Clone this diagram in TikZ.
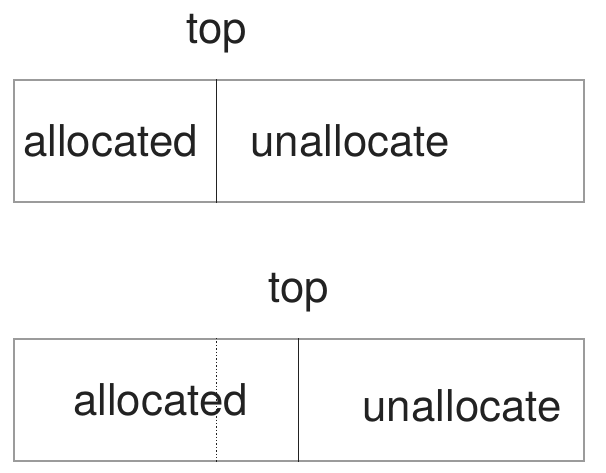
\documentclass[tikz,border=0pt]{standalone}
\usepackage{fontspec}
\setmainfont{TeX Gyre Heros}
\usetikzlibrary{positioning}
\definecolor{rimgray}{RGB}{155,155,155}
\definecolor{inkgray}{RGB}{34,34,34}
\tikzset{
  mem/.style={draw=rimgray, line width=1pt, minimum width=285pt, minimum height=61pt, inner sep=0pt},
  word/.style={font=\fontsize{21.9}{26}\selectfont, text=inkgray, inner sep=0pt, anchor=base},
  ptr/.style={inkgray, line width=0.85pt},
  oldptr/.style={inkgray, line width=0.7pt, densely dotted},
}

\begin{document}
\begin{tikzpicture}[x=0.5pt, y=-0.5pt]
    \useasboundingbox (0,0) rectangle (606,472);
    % before
    \node[word] (topA) at (216.5,43) {top};
    \node[mem] (memA) at (298.5,141) {};
    \draw[ptr] (topA |- memA.north) -- (topA |- memA.south);
    \node[word] (allocA) at (110.5,156) {allocated};
    \node[word] (freeA) at (350,156) {unallocate};
    % after
    \node[word] (topB) at (298.5,302) {top};
    \node[mem] (memB) at (298.5,400) {};
    \draw[oldptr] (topA |- memB.north) -- (topA |- memB.south);
    \draw[ptr] (topB |- memB.north) -- (topB |- memB.south);
    \node[word] (allocB) at (160.5,415) {allocated};
    \node[word] (freeB) at (462,421) {unallocate};
\end{tikzpicture}
\end{document}
